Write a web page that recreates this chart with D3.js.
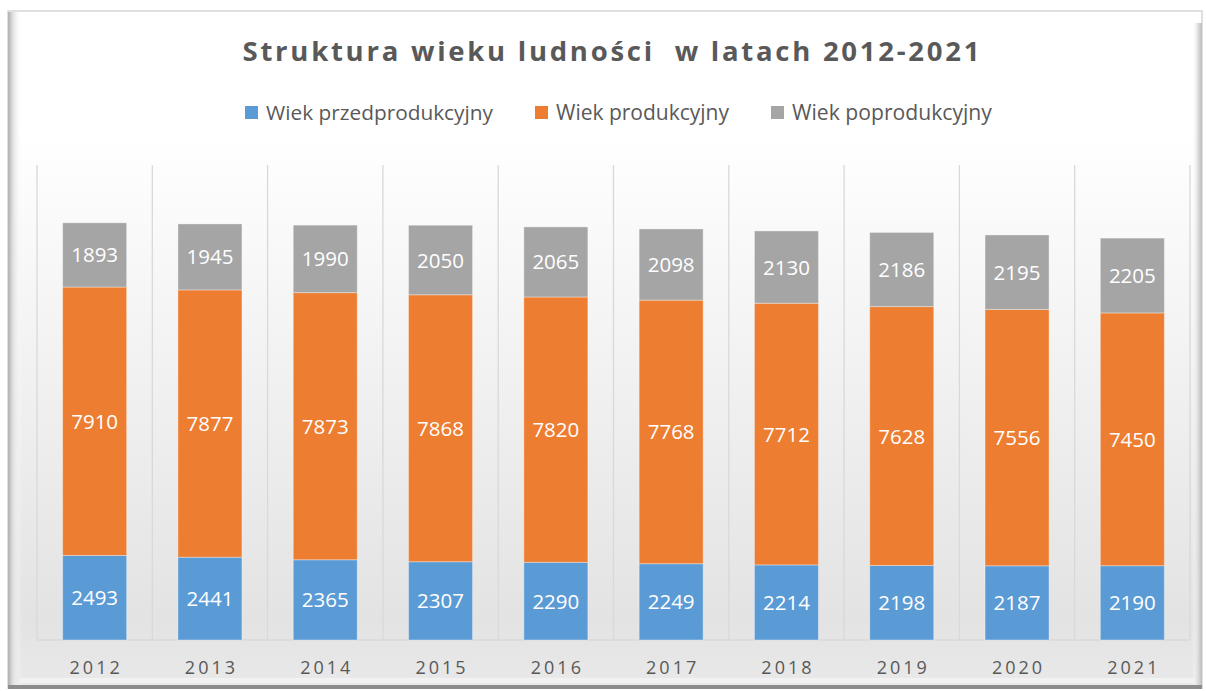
<!DOCTYPE html>
<html><head><meta charset="utf-8">
<script src="https://cdn.jsdelivr.net/npm/d3@7"></script>
<style>html,body{margin:0;padding:0;background:#fff;}svg{display:block;}</style>
</head><body>
<script>
const years = ["2012","2013","2014","2015","2016","2017","2018","2019","2020","2021"];
const seriesNames = ["Wiek przedprodukcyjny","Wiek produkcyjny","Wiek poprodukcyjny"];
const przed = [2493,2441,2365,2307,2290,2249,2214,2198,2187,2190];
const prod = [7910,7877,7873,7868,7820,7768,7712,7628,7556,7450];
const post = [1893,1945,1990,2050,2065,2098,2130,2186,2195,2205];
const colors = ["#5b9bd5","#ed7d31","#a5a5a5"];
const title = "Struktura wieku ludności  w latach 2012-2021";

const W = 1206, H = 691;
const font = "'Open Sans', 'Noto Sans', sans-serif";
const svg = d3.select("body").append("svg").attr("width", W).attr("height", H);
const defs = svg.append("defs");
const bg = defs.append("linearGradient").attr("id","bg").attr("x1",0).attr("y1",0).attr("x2",0).attr("y2",1);
bg.append("stop").attr("offset","0%").attr("stop-color","#ffffff");
bg.append("stop").attr("offset","18%").attr("stop-color","#ffffff");
bg.append("stop").attr("offset","90%").attr("stop-color","#e3e3e3");
bg.append("stop").attr("offset","100%").attr("stop-color","#e9e9e9");
const ls = defs.append("linearGradient").attr("id","ls").attr("x1",0).attr("y1",0).attr("x2",1).attr("y2",0);
ls.append("stop").attr("offset","0%").attr("stop-color","#b0b0b0");
ls.append("stop").attr("offset","35%").attr("stop-color","#e0e0e0");
ls.append("stop").attr("offset","100%").attr("stop-color","#ffffff").attr("stop-opacity",0);
const rs = defs.append("linearGradient").attr("id","rs").attr("x1",0).attr("y1",0).attr("x2",1).attr("y2",0);
rs.append("stop").attr("offset","0%").attr("stop-color","#ffffff").attr("stop-opacity",0);
rs.append("stop").attr("offset","60%").attr("stop-color","#dcdcdc");
rs.append("stop").attr("offset","100%").attr("stop-color","#bdbdbd");

// frame
svg.append("rect").attr("x",8).attr("y",11).attr("width",1194).attr("height",677)
  .attr("fill","url(#bg)").attr("stroke","#d6d6d6").attr("stroke-width",1.5);
svg.append("rect").attr("x",8).attr("y",12).attr("width",14).attr("height",674).attr("fill","url(#ls)");
svg.append("rect").attr("x",1192).attr("y",23).attr("width",10).attr("height",663).attr("fill","url(#rs)");
svg.append("rect").attr("x",20).attr("y",678).attr("width",1175).attr("height",5).attr("fill","#f2f2f2");
svg.append("rect").attr("x",8).attr("y",685).attr("width",1194).attr("height",4).attr("fill","#8c8c8c");

function fitWidth(sel, target){
  const len = sel.node().getComputedTextLength();
  const fs = +sel.attr("font-size");
  sel.attr("font-size", (fs*target/len).toFixed(2));
}

// title
const t = svg.append("text").attr("x",611).attr("y",61).attr("text-anchor","middle")
  .attr("font-family",font).attr("font-weight","bold").attr("font-size",27.5)
  .attr("fill","#595959").attr("xml:space","preserve").text(title);
{
  const target = 737;
  const len = t.node().getComputedTextLength();
  const n = title.length;
  const sp = (target - len)/(n-1);
  t.attr("letter-spacing", sp.toFixed(2));
  t.attr("x", 611 + sp/2);
}

// scales
const x = d3.scaleBand().domain(years).range([37,1190]).paddingInner(0).paddingOuter(0);
const y = d3.scaleLinear().domain([0,14000]).range([640,165]);
const bw = 64;

// grid
const g = svg.append("g");
g.selectAll("line.v").data(years.concat(["end"])).join("line")
  .attr("x1",(d,i)=> i<years.length ? x(d) : x.range()[1])
  .attr("x2",(d,i)=> i<years.length ? x(d) : x.range()[1])
  .attr("y1",y(14000)).attr("y2",y(0)).attr("stroke","#d9d9d9").attr("stroke-width",1.3);
g.append("line").attr("x1",37).attr("x2",1190).attr("y1",y(0)).attr("y2",y(0))
  .attr("stroke","#d9d9d9").attr("stroke-width",1.3);

// stacked data
const rows = years.map((yr,i)=>({year:yr, a:przed[i], b:prod[i], c:post[i]}));
const stack = d3.stack().keys(["a","b","c"])(rows);
stack.forEach((layer,k)=>{
  const lg = svg.append("g");
  lg.selectAll("rect").data(layer).join("rect")
    .attr("x", d=> x(d.data.year) + x.bandwidth()/2 - bw/2)
    .attr("width", bw)
    .attr("y", d=> y(d[1]))
    .attr("height", d=> y(d[0]) - y(d[1]))
    .attr("fill", colors[k])
    .attr("stroke","#ffffff").attr("stroke-opacity",0.35).attr("stroke-width",1);
  lg.selectAll("text").data(layer).join("text")
    .attr("x", d=> x(d.data.year) + x.bandwidth()/2)
    .attr("y", d=> (y(d[0]) + y(d[1]))/2 + 7.5)
    .attr("text-anchor","middle").attr("font-family",font).attr("font-size",20.5)
    .attr("fill","#ffffff").text(d=> d[1]-d[0]);
});

// x axis labels
svg.append("g").selectAll("text").data(years).join("text")
  .attr("x", d=> x(d) + x.bandwidth()/2 + 1.5)
  .attr("y", 674).attr("text-anchor","middle").attr("font-family",font)
  .attr("font-size",18).attr("letter-spacing",3).attr("fill","#595959").text(d=>d);

// legend
const legX = [245, 535, 771];
const legW = [227, 173, 200];
const leg = svg.append("g");
seriesNames.forEach((s,i)=>{
  leg.append("rect").attr("x",legX[i]).attr("y",106).attr("width",13).attr("height",13).attr("fill",colors[i]);
  const tx = leg.append("text").attr("x",legX[i]+21).attr("y",119.5).attr("font-family",font)
    .attr("font-size",19).attr("fill","#595959").text(s);
  fitWidth(tx, legW[i]);
});
</script>
</body></html>
